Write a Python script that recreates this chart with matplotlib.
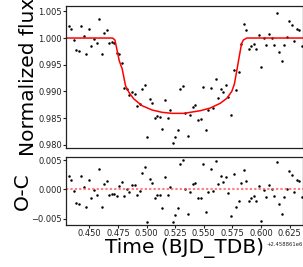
import matplotlib
matplotlib.use("Agg")
import matplotlib.pyplot as plt
import numpy as np

OFFSET = 2458861.0

# observation times (BJD_TDB - 2458861)
time = [0.43195, 0.43417, 0.43638, 0.43860, 0.44081, 0.44303, 0.44524, 0.44746,
        0.44967, 0.45189, 0.45410, 0.45632, 0.45853, 0.46075, 0.46296, 0.46518,
        0.46739, 0.46961, 0.47182, 0.47404, 0.47625, 0.47847, 0.48068, 0.48290,
        0.48511, 0.48733, 0.48954, 0.49176, 0.49397, 0.49619, 0.49840, 0.50062,
        0.50283, 0.50505, 0.50726, 0.50948, 0.51169, 0.51391, 0.51612, 0.51834,
        0.52055, 0.52277, 0.52498, 0.52720, 0.52941, 0.53163, 0.53384, 0.53606,
        0.53827, 0.54049, 0.54270, 0.54492, 0.54713, 0.54935, 0.55156, 0.55378,
        0.55599, 0.55821, 0.56042, 0.56264, 0.56485, 0.56707, 0.56928, 0.57150,
        0.57371, 0.57593, 0.57814, 0.58036, 0.58257, 0.58479, 0.58700, 0.58922,
        0.59143, 0.59365, 0.59586, 0.59808, 0.60029, 0.60251, 0.60472, 0.60694,
        0.60915, 0.61137, 0.61358, 0.61580, 0.61801, 0.62023, 0.62244, 0.62466,
        0.62687, 0.62909, 0.63130, 0.63352, 0.63573]

flux = [1.00231, 1.00163, 0.99968, 0.99769, 0.99751, 1.00231, 1.00041, 0.99696,
        1.00165, 0.99844, 0.99976, 0.99903, 1.00356, 0.99696, 1.00099, 1.00150,
        0.99901, 0.99921, 0.99901, 0.99728, 0.99700, 0.99541, 0.99072, 0.99048,
        0.98932, 0.98984, 0.98951, 0.98726, 0.98758, 0.99039, 0.99119, 0.98139,
        0.98857, 0.98788, 0.98511, 0.98538, 0.98525, 0.98304, 0.98832, 0.98506,
        0.98660, 0.98027, 0.98141, 0.98276, 0.99039, 0.99097, 0.98600, 0.98173,
        0.98566, 0.98701, 0.98741, 0.98473, 0.98491, 0.99087, 0.98272, 0.98645,
        0.99063, 0.98698, 0.99237, 0.98885, 0.99048, 0.98984, 0.99114, 0.98894,
        0.98551, 0.99400, 0.99035, 0.99372, 0.99897, 1.00268, 1.00144, 0.99799,
        0.99846, 0.99888, 0.99794, 1.00060, 0.99451, 0.99994, 0.99863, 1.00075,
        1.00006, 0.99878, 1.00474, 0.99743, 0.99575, 0.99863, 1.00013, 1.00315,
        1.00253, 0.99949, 1.00163, 1.00150, 0.99856]

residual = [0.00223, 0.00160, -0.00030, -0.00229, -0.00246, 0.00229, 0.00040, -0.00303,
            0.00160, -0.00154, -0.00017, -0.00103, 0.00349, -0.00303, 0.00091, 0.00149,
            -0.00103, -0.00080, -0.00080, -0.00114, 0.00050, 0.00120, -0.00120, 0.00000,
            -0.00046, 0.00074, 0.00080, -0.00103, -0.00034, 0.00274, 0.00377, -0.00566,
            0.00170, 0.00114, -0.00149, -0.00103, -0.00103, -0.00314, 0.00211, -0.00097,
            0.00040, -0.00566, -0.00446, -0.00314, 0.00440, 0.00497, 0.00000, -0.00423,
            -0.00040, 0.00086, 0.00114, -0.00154, -0.00154, 0.00429, -0.00394, -0.00046,
            0.00354, -0.00023, 0.00480, 0.00097, 0.00223, 0.00131, 0.00206, -0.00063,
            -0.00463, 0.00263, -0.00303, -0.00200, 0.00103, 0.00326, 0.00137, -0.00200,
            -0.00149, -0.00114, -0.00206, 0.00057, -0.00549, -0.00006, -0.00137, 0.00074,
            0.00006, -0.00120, 0.00469, -0.00257, -0.00423, -0.00137, 0.00006, 0.00309,
            0.00251, -0.00051, 0.00160, 0.00143, -0.00137]

# best-fit transit model
model_time = [0.42968, 0.47032, 0.47241, 0.47616, 0.47878, 0.48165, 0.48462, 0.48898,
              0.49622, 0.50494, 0.51366, 0.52238, 0.53284, 0.53807, 0.54679, 0.55551,
              0.56423, 0.57007, 0.57444, 0.57670, 0.57879, 0.58106, 0.58298, 0.58455,
              0.58751, 0.63617]
model_flux = [1.00000, 1.00000, 0.99963, 0.99575, 0.99419, 0.99106, 0.98982, 0.98857,
              0.98731, 0.98651, 0.98608, 0.98589, 0.98589, 0.98608, 0.98638, 0.98688,
              0.98776, 0.98870, 0.99001, 0.99138, 0.99387, 0.99668, 0.99897, 0.99963,
              1.00000, 1.00000]

t = np.array(time) + OFFSET
mt = np.array(model_time) + OFFSET

fig = plt.figure(figsize=(3.03, 2.67), dpi=100)
W, H = 303.0, 267.0
ax1 = fig.add_axes([66 / W, 1 - 148 / H, 236.5 / W, 142 / H])
ax2 = fig.add_axes([66 / W, 1 - 225 / H, 236.5 / W, 67.7 / H], sharex=ax1)

ax1.plot(t, flux, 'o', color='black', ms=1.8, mew=0)
ax1.plot(mt, model_flux, color='red', lw=1.1)
ax1.set_ylim(0.9794, 1.0060)
ax1.set_ylabel("Normalized flux", fontsize=14.5)
ax1.yaxis.set_label_coords(-0.118, 0.5)
ax1.tick_params(axis='x', bottom=False, labelbottom=False)

ax2.plot(t, residual, 'o', color='black', ms=1.8, mew=0)
ax2.axhline(0, color='#ff6060', alpha=0.8, lw=1.5, linestyle=(0, (1.1, 1.0)))
ax2.set_ylim(-0.0061, 0.0055)
ax2.set_yticks([-0.005, 0.0, 0.005])
ax2.set_ylabel("O-C", fontsize=14.5)
ax2.yaxis.set_label_coords(-0.144, 0.5)
ax2.set_xlabel("Time (BJD_TDB)", fontsize=14.5, labelpad=0)
ax2.set_xlim(0.42968 + OFFSET, 0.63617 + OFFSET)
ax2.set_xticks(np.array([0.450, 0.475, 0.500, 0.525, 0.550, 0.575, 0.600, 0.625]) + OFFSET)

for ax in (ax1, ax2):
    ax.tick_params(labelsize=6, length=2, pad=1, colors='#222222')
    ax.tick_params(axis='both', labelcolor='#222222')
    for s in ax.spines.values():
        s.set_linewidth(0.9)
        s.set_color('#222222')

ax2.xaxis.get_offset_text().set_fontsize(3.8)

fig.savefig("out.png", dpi=100)
